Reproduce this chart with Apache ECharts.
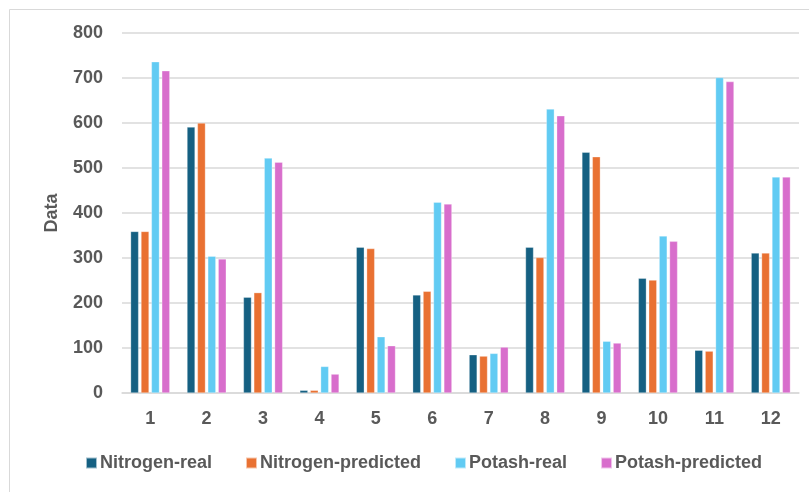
<!DOCTYPE html>
<html>
<head>
<meta charset="utf-8">
<script src="https://cdn.jsdelivr.net/npm/echarts@6/dist/echarts.min.js"></script>
<style>
  html, body { margin: 0; padding: 0; background: #ffffff; }
  #chart { width: 809px; height: 492px; }
</style>
</head>
<body>
<div id="chart"></div>
<script>
// Category labels along the x axis
const categories = ['1', '2', '3', '4', '5', '6', '7', '8', '9', '10', '11', '12'];

// Measured and predicted values per sample
const nitrogenReal      = [359, 591, 213, 6, 324, 218, 85, 324, 535, 255, 95, 311];
const nitrogenPredicted = [359, 600, 223, 6, 321, 226, 82, 301, 525, 251, 93, 311];
const potashReal        = [736, 304, 522, 59, 125, 424, 88, 631, 115, 349, 701, 480];
const potashPredicted   = [716, 298, 513, 42, 105, 420, 102, 616, 111, 337, 692, 480];

const seriesNames = ['Nitrogen-real', 'Nitrogen-predicted', 'Potash-real', 'Potash-predicted'];
const seriesColors = ['#156082', '#E97132', '#61CBF3', '#D86ECC'];
const seriesData = [nitrogenReal, nitrogenPredicted, potashReal, potashPredicted];

const textColor = '#595959';
const fontFamily = '"Liberation Sans", Arial, sans-serif';

const chart = echarts.init(document.getElementById('chart'), null, { renderer: 'canvas' });

chart.setOption({
  animation: false,
  backgroundColor: '#ffffff',
  textStyle: { fontFamily: fontFamily },
  graphic: [{
    type: 'rect',
    shape: { x: 9.5, y: 9.5, width: 830, height: 520 },
    style: { fill: 'none', stroke: '#d9d9d9', lineWidth: 1 },
    silent: true
  }],
  grid: { left: 122, right: 10, top: 33, bottom: 99, containLabel: false },
  legend: {
    data: seriesNames,
    bottom: 15,
    left: 80,
    itemWidth: 11,
    itemHeight: 11,
    itemGap: 33,
    icon: 'rect',
    textStyle: { color: textColor, fontSize: 18, fontWeight: 'bold', fontFamily: fontFamily, padding: [0, 0, 0, -2] }
  },
  xAxis: {
    type: 'category',
    data: categories,
    axisLine: { show: true, lineStyle: { color: '#d9d9d9', width: 1.5 } },
    axisTick: { show: false },
    axisLabel: { color: textColor, fontSize: 18, fontWeight: 'bold', margin: 17 }
  },
  yAxis: {
    type: 'value',
    min: 0,
    max: 800,
    interval: 100,
    name: 'Data',
    nameLocation: 'middle',
    nameGap: 61,
    nameRotate: 90,
    nameTextStyle: { color: textColor, fontSize: 18, fontWeight: 'bold' },
    axisLine: { show: false },
    axisTick: { show: false },
    axisLabel: { color: textColor, fontSize: 18, fontWeight: 'bold', margin: 19 },
    splitLine: { lineStyle: { color: '#d9d9d9', width: 1.5 } }
  },
  series: seriesNames.map((name, i) => ({
    name: name,
    type: 'bar',
    data: seriesData[i],
    barWidth: 8,
    barGap: '30%',
    itemStyle: { color: seriesColors[i], borderColor: 'rgba(255,255,255,0.6)', borderWidth: 0.5 }
  }))
});
</script>
</body>
</html>
